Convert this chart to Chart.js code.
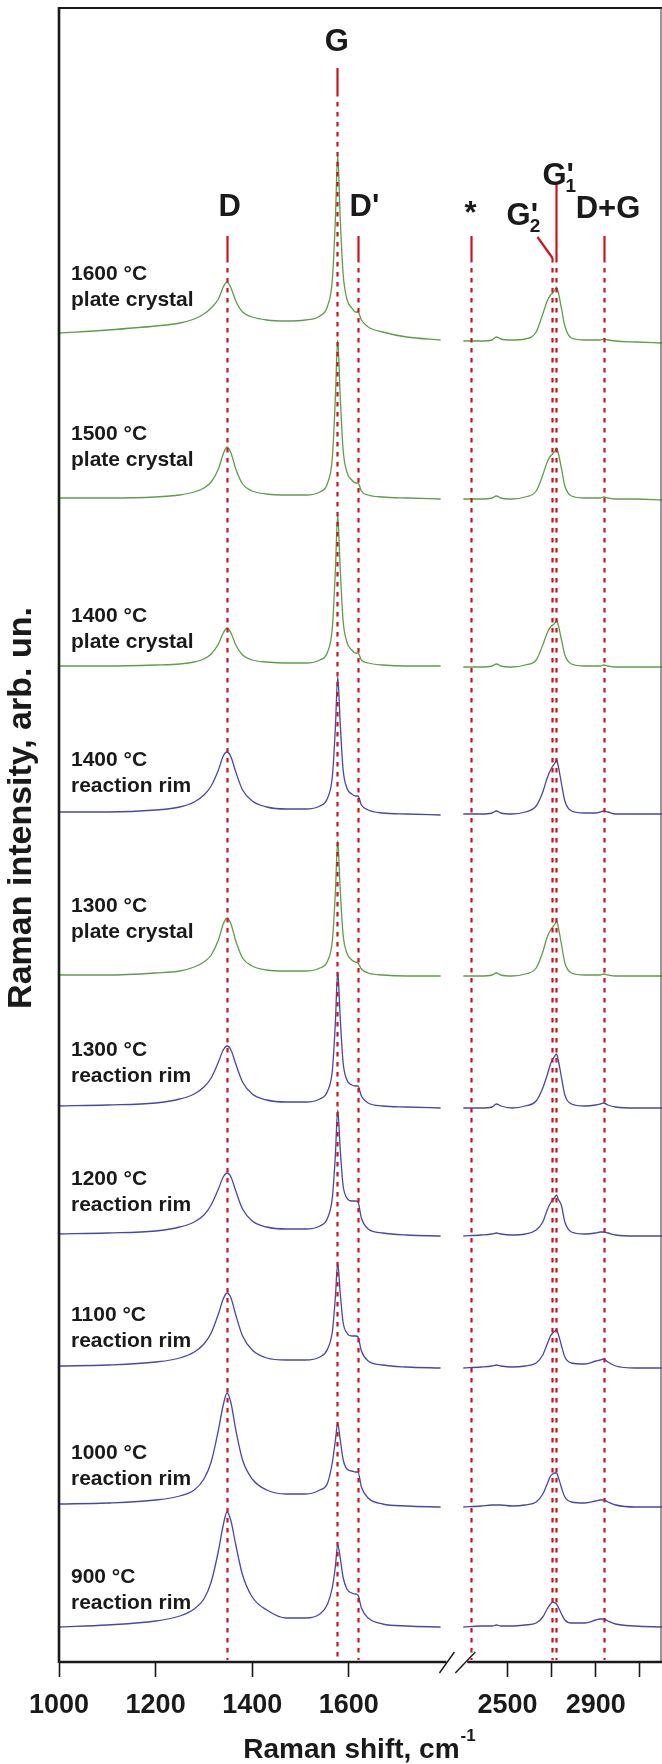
<!DOCTYPE html>
<html>
<head>
<meta charset="utf-8">
<script src="https://cdn.jsdelivr.net/npm/chart.js@4.4.1/dist/chart.umd.min.js"></script>
<style>
  html, body { margin: 0; padding: 0; background: #fff; }
  canvas { display: block; }
</style>
</head>
<body>
<canvas id="raman" width="662" height="1764" style="width:662px;height:1764px"></canvas>
<script>
// wavenumber grids (cm-1) for the two sides of the axis break
const waveLeft = [1000, 1100, 1200, 1250, 1280, 1300, 1315, 1330, 1340, 1348, 1356, 1366, 1380, 1400, 1430, 1470, 1510, 1540, 1556, 1566, 1572, 1577, 1582, 1588, 1596, 1606, 1614, 1619, 1626, 1640, 1670, 1720, 1790];
const waveRight = [2300, 2380, 2430, 2450, 2470, 2520, 2580, 2630, 2660, 2680, 2695, 2705, 2715, 2722, 2730, 2745, 2760, 2790, 2850, 2900, 2920, 2936, 2955, 2990, 3080, 3200];

const sampleTemp = ["1600 °C", "1500 °C", "1400 °C", "1400 °C", "1300 °C", "1300 °C", "1200 °C", "1100 °C", "1000 °C", "900 °C"];
const sampleType = ["plate crystal", "plate crystal", "plate crystal", "reaction rim", "plate crystal", "reaction rim", "reaction rim", "reaction rim", "reaction rim", "reaction rim"];
const sampleKind = ["plate", "plate", "plate", "rim", "plate", "rim", "rim", "rim", "rim", "rim"];
// vertical stacking offset of each spectrum (arb. un.)
const offsets = [1321, 1163, 995, 848, 686, 554, 426, 294, 155, 35];

// intensities above each spectrum's own baseline
const left1600p = [8, 11, 15, 18, 22, 27, 33, 42, 54, 59, 53, 40, 29, 24, 21, 20, 21, 25, 35, 62, 120, 186, 125, 68, 42, 33, 29, 29, 21, 14, 9, 4, 1];
const right1600p = [0, 0, 1, 4, 2, 1, 2, 9, 27, 40, 46, 48, 51, 54, 49, 32, 15, 3, 1, 1, 1, 2, 1, 0, -1, -2];
const left1500p = [1, 1, 2, 4, 7, 11, 17, 30, 45, 52, 46, 30, 15, 8, 5, 4, 4, 7, 16, 42, 100, 159, 105, 50, 27, 19, 16, 16, 8, 4, 2, 1, 0];
const right1500p = [0, 0, 1, 3, 1, 0, 2, 8, 24, 37, 43, 45, 48, 51, 46, 30, 13, 3, 1, 1, 1, 2, 1, 0, 0, -1];
const left1400p = [1, 1, 2, 3, 5, 8, 13, 23, 34, 39, 34, 22, 12, 7, 5, 4, 4, 7, 15, 40, 95, 152, 100, 47, 25, 17, 14, 14, 7, 4, 2, 1, 1];
const right1400p = [0, 0, 1, 3, 1, 0, 2, 7, 22, 34, 40, 42, 44, 47, 42, 27, 12, 3, 1, 1, 1, 2, 1, 0, 0, 0];
const left1400r = [2, 2, 4, 7, 12, 19, 28, 44, 58, 62, 57, 42, 24, 13, 7, 5, 5, 8, 16, 38, 85, 137, 92, 45, 26, 20, 18, 18, 9, 4, 1, 0, -1];
const right1400r = [0, 0, 1, 3, 1, 0, 2, 8, 22, 36, 44, 48, 51, 54, 48, 30, 13, 3, 1, 1, 2, 3, 2, 0, 0, 0];
const left1300p = [1, 1, 3, 5, 9, 14, 21, 36, 52, 58, 52, 35, 18, 10, 6, 5, 5, 8, 15, 36, 82, 135, 88, 42, 23, 16, 14, 13, 7, 3, 1, 0, 0];
const right1300p = [0, 0, 1, 3, 1, 0, 2, 8, 24, 39, 46, 49, 52, 55, 49, 31, 13, 3, 1, 1, 1, 2, 1, 0, 0, 0];
const left1300r = [2, 3, 5, 9, 14, 21, 30, 46, 58, 62, 58, 44, 26, 14, 8, 6, 6, 9, 17, 38, 84, 136, 92, 46, 28, 23, 22, 22, 12, 5, 2, 1, 0];
const right1300r = [0, 0, 1, 4, 2, 0, 2, 7, 20, 33, 44, 49, 52, 54, 48, 30, 13, 4, 2, 3, 4, 5, 3, 1, 0, 0];
const left1200r = [2, 3, 5, 9, 14, 21, 31, 47, 59, 63, 59, 45, 27, 15, 9, 7, 7, 10, 18, 39, 80, 126, 88, 51, 38, 35, 35, 34, 18, 7, 3, 1, 0];
const right1200r = [0, 1, 2, 3, 2, 1, 2, 6, 14, 26, 33, 36, 39, 41, 37, 30, 14, 4, 2, 3, 4, 4, 3, 1, 0, 0];
const left1100r = [2, 3, 6, 10, 16, 24, 35, 54, 69, 75, 70, 53, 32, 18, 10, 8, 8, 11, 19, 37, 70, 105, 76, 46, 35, 32, 32, 31, 17, 7, 3, 1, 0];
const right1100r = [0, 1, 2, 3, 2, 1, 2, 5, 13, 24, 32, 35, 37, 38, 34, 22, 11, 5, 4, 7, 8, 9, 6, 2, 0, 0];
const left1000r = [3, 4, 7, 11, 17, 28, 45, 77, 102, 114, 104, 77, 47, 28, 17, 13, 13, 17, 24, 45, 66, 84, 68, 48, 38, 36, 35, 35, 20, 9, 3, 1, 0];
const right1000r = [0, 1, 2, 2, 2, 1, 2, 5, 13, 23, 31, 33, 34, 34, 30, 19, 10, 5, 4, 6, 7, 7, 5, 2, 0, 0];
const left900r = [0, 2, 6, 11, 18, 28, 45, 76, 102, 115, 106, 82, 52, 30, 17, 9, 9, 13, 23, 40, 60, 82, 70, 50, 38, 34, 33, 32, 19, 9, 3, 1, 0];
const right900r = [0, 1, 1, 2, 1, 1, 2, 4, 10, 18, 23, 25, 24, 23, 20, 13, 7, 4, 4, 7, 8, 8, 6, 3, 1, 0];

const spectraLeft = [left1600p, left1500p, left1400p, left1400r, left1300p, left1300r, left1200r, left1100r, left1000r, left900r];
const spectraRight = [right1600p, right1500p, right1400p, right1400r, right1300p, right1300r, right1200r, right1100r, right1000r, right900r];

// band positions and names
const peakWaves = [1347, 1575, 1618, 2333, 2700, 2722, 2936];
const peakNames = ["D", "G", "D'", "*", "G'2", "G'1", "D+G"];

const tickWaves = [1000, 1200, 1400, 1600, 2500, 2700, 2900, 3100];
const tickLabels = ["1000", "1200", "1400", "1600", "2500", "", "2900", ""];

// broken axis: 1000-1800 full scale, 2300-3200 squeezed
const LEFT_MIN = 1000, LEFT_MAX = 1800, RIGHT_MIN = 2300, RIGHT_MAX = 3200;
const RIGHT_SQUEEZE = 0.457, BREAK_GAP = 37;
function toAxis(w) {
    if (w <= LEFT_MAX) return w - LEFT_MIN;
    return (LEFT_MAX - LEFT_MIN) + BREAK_GAP + (w - RIGHT_MIN) * RIGHT_SQUEEZE;
}

const FONT = "'Liberation Sans', Arial, sans-serif";
const INK = "#1a1a1a";
const RED = "#c8161d";
const kindColor = { plate: "#5d9e48", rim: "#4747a8" };

const datasets = spectraLeft.map((leftVals, k) => {
    const pts = waveLeft.map((w, i) => ({ x: toAxis(w), y: offsets[k] + leftVals[i] }));
    pts.push({ x: toAxis(LEFT_MAX) + BREAK_GAP / 2, y: null });
    waveRight.forEach((w, i) => pts.push({ x: toAxis(w), y: offsets[k] + spectraRight[k][i] }));
    return {
        label: sampleTemp[k] + " " + sampleType[k],
        data: pts,
        borderColor: kindColor[sampleKind[k]],
        borderWidth: 1.3,
        pointRadius: 0,
        cubicInterpolationMode: "monotone",
        spanGaps: false
    };
});

function drawPeakName(c, name, x, y) {
    const parts = name.split("'");
    c.font = "bold 31px " + FONT;
    c.textAlign = "left";
    c.textBaseline = "middle";
    c.fillText(parts[0], x, y);
    if (parts.length > 1) {
        const w = c.measureText(parts[0]).width;
        c.fillText("'", x + w, y);
        if (parts[1]) {
            c.font = "bold 19px " + FONT;
            c.fillText(parts[1], x + w - 1, y + 11);
        }
    }
}

const decorations = {
    id: "decorations",
    afterDatasetsDraw(chart) {
        const c = chart.ctx;
        const { left, right, top, bottom } = chart.chartArea;
        const xs = chart.scales.x;
        const px = w => xs.getPixelForValue(toAxis(w));
        c.save();

        // frame
        c.strokeStyle = INK;
        c.lineWidth = 2;
        c.beginPath();
        c.moveTo(left, top); c.lineTo(right, top);
        c.stroke();
        c.lineWidth = 1.2;
        c.strokeStyle = "#555";
        c.beginPath();
        c.moveTo(right - 1, top); c.lineTo(right - 1, bottom);
        c.stroke();
        c.strokeStyle = INK;
        c.lineWidth = 2.6;
        c.beginPath();
        c.moveTo(left, top - 1); c.lineTo(left, bottom + 1);
        c.stroke();

        // bottom axis with break
        const bl = px(LEFT_MAX) + 1, br = px(RIGHT_MIN) + 4;
        c.lineWidth = 2.4;
        c.beginPath();
        c.moveTo(left, bottom); c.lineTo(bl, bottom);
        c.moveTo(br, bottom); c.lineTo(right, bottom);
        c.stroke();
        c.lineWidth = 1.4;
        c.beginPath();
        c.moveTo(bl - 7, bottom + 11); c.lineTo(bl + 8, bottom - 10);
        c.moveTo(br - 12, bottom + 11); c.lineTo(br + 8, bottom - 10);
        c.stroke();

        // band markers
        const solidTop = [236, 68, 236, 236, 237, 182, 236];
        const solidEnd = [258, 92, 258, 258, 258, 258, 258];
        const nameDx = [-8, -12, -8, -6, -45, -14, -28];
        const nameY = [207, 42, 207, 214, 216, 176, 209];
        c.strokeStyle = RED;
        peakWaves.forEach((w, i) => {
            const x = Math.round(px(w)) + 0.5;
            c.lineWidth = 2.2;
            c.setLineDash([]);
            c.beginPath();
            if (peakNames[i] === "G'2") {
                c.moveTo(x - 15, solidTop[i]); c.lineTo(x, solidEnd[i]);
            } else {
                c.moveTo(x, solidTop[i]); c.lineTo(x, solidEnd[i]);
            }
            c.stroke();
            c.setLineDash([4.5, 5.5]);
            c.beginPath();
            c.moveTo(x, solidEnd[i]); c.lineTo(x, bottom - 2);
            c.stroke();
        });
        c.setLineDash([]);

        c.fillStyle = INK;
        peakWaves.forEach((w, i) => drawPeakName(c, peakNames[i], px(w) + nameDx[i], nameY[i]));

        // sample labels
        const labelY = [274, 434, 616, 760, 906, 1050, 1179, 1315, 1453, 1577];
        c.font = "bold 21px " + FONT;
        c.textAlign = "left";
        c.textBaseline = "middle";
        sampleTemp.forEach((t, k) => {
            c.fillText(t, 71, labelY[k]);
            c.fillText(sampleType[k], 71, labelY[k] + 26);
        });

        // x axis title with superscript
        const main = "Raman shift, cm";
        c.font = "bold 28px " + FONT;
        const mw = c.measureText(main).width;
        c.font = "bold 17px " + FONT;
        const sw = c.measureText("-1").width;
        const x0 = 359 - (mw + sw) / 2;
        c.font = "bold 28px " + FONT;
        c.fillText(main, x0, 1750);
        c.font = "bold 17px " + FONT;
        c.fillText("-1", x0 + mw + 1, 1736);

        // y axis title
        c.translate(22, 808);
        c.rotate(-Math.PI / 2);
        c.font = "bold 34px " + FONT;
        c.textAlign = "center";
        c.fillText("Raman intensity, arb. un.", 0, 0);
        c.restore();
    }
};

new Chart(document.getElementById("raman"), {
    type: "line",
    data: { datasets },
    options: {
        responsive: false,
        animation: false,
        events: [],
        layout: { padding: { top: 8, right: 0, left: 0, bottom: 0 } },
        plugins: { legend: { display: false }, tooltip: { enabled: false } },
        scales: {
            x: {
                type: "linear",
                min: 0,
                max: toAxis(RIGHT_MAX),
                afterBuildTicks: s => { s.ticks = tickWaves.map(w => ({ value: toAxis(w) })); },
                afterFit: s => { s.height = 102; },
                ticks: {
                    autoSkip: false,
                    maxRotation: 0,
                    padding: 12,
                    color: INK,
                    font: { family: FONT, weight: "bold", size: 27 },
                    callback: (v, i) => tickLabels[i]
                },
                grid: { drawOnChartArea: false, tickLength: 15, tickWidth: 1.6, tickColor: INK },
                border: { display: false }
            },
            y: {
                min: 0,
                max: 1654,
                afterFit: s => { s.width = 59; },
                ticks: { display: false },
                grid: { display: false },
                border: { display: false }
            }
        }
    },
    plugins: [decorations]
});
</script>
</body>
</html>
